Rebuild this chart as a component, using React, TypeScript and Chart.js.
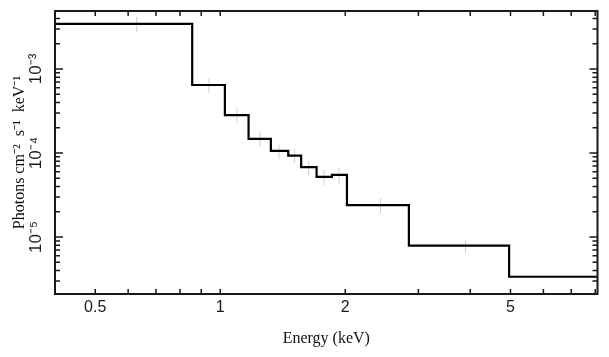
import React, { useEffect, useRef } from 'react';
import { Chart, registerables } from 'chart.js';

Chart.register(...registerables);

// Bin edges (keV) and model step values (photons cm^-2 s^-1 keV^-1)
const binEdges = [0.4, 0.856, 1.026, 1.17, 1.324, 1.458, 1.566, 1.706, 1.857, 2.019, 2.846, 4.962, 8.1];
const binValues = [3.45e-3, 6.45e-4, 2.83e-4, 1.47e-4, 1.06e-4, 9.3e-5, 6.8e-5, 5.2e-5, 5.5e-5, 2.4e-5, 7.9e-6, 3.37e-6];

// Data points (faint error bars)
const errEnergy = [0.629, 0.939, 1.097, 1.246, 1.385, 1.51, 1.632, 1.776, 1.931, 2.432, 3.896];
const errLow = [2.75e-3, 5.18e-4, 2.28e-4, 1.18e-4, 8.48e-5, 7.6e-5, 5.47e-5, 4.16e-5, 4.39e-5, 1.93e-5, 6.45e-6];
const errHigh = [4.16e-3, 7.81e-4, 3.43e-4, 1.78e-4, 1.25e-4, 1.12e-4, 8.03e-5, 6.28e-5, 6.63e-5, 2.91e-5, 9.21e-6];

// Axes
const xMin = 0.4;
const xMax = 8.1;
const yMin = 2.1e-6;
const yMax = 4.9e-3;
const xTickValues = [0.5, 1, 2, 5];
const xTickLabels = ['0.5', '1', '2', '5'];
const xMinorTicks = [0.5, 0.6, 0.7, 0.8, 0.9, 1, 2, 3, 4, 5, 6, 7, 8];
const yTickValues = [1e-5, 1e-4, 1e-3];
const yTickLabels = ['10⁻⁵', '10⁻⁴', '10⁻³'];
const yMinorTicks = [
  3e-6, 4e-6, 5e-6, 6e-6, 7e-6, 8e-6, 9e-6,
  1e-5, 2e-5, 3e-5, 4e-5, 5e-5, 6e-5, 7e-5, 8e-5, 9e-5,
  1e-4, 2e-4, 3e-4, 4e-4, 5e-4, 6e-4, 7e-4, 8e-4, 9e-4,
  1e-3, 2e-3, 3e-3, 4e-3,
];

const xTitle = 'Energy (keV)';
const yTitle = 'Photons cm⁻²  s⁻¹  keV⁻¹';

const framePlugin = {
  id: 'frameTicks',
  afterDatasetsDraw(chart: any) {
    const { ctx, chartArea, scales } = chart;
    const { left, right, top, bottom } = chartArea;
    const xs = scales.x;
    const ys = scales.y;
    ctx.save();
    ctx.strokeStyle = '#1a1a1a';
    ctx.lineWidth = 1.5;
    ctx.beginPath();
    xMinorTicks.forEach((v) => {
      const px = xs.getPixelForValue(v);
      ctx.moveTo(px, bottom);
      ctx.lineTo(px, bottom - 5);
      ctx.moveTo(px, top);
      ctx.lineTo(px, top + 5);
    });
    yMinorTicks.forEach((v) => {
      const py = ys.getPixelForValue(v);
      const len = yTickValues.includes(v) ? 8 : 5;
      ctx.moveTo(left, py);
      ctx.lineTo(left + len, py);
      ctx.moveTo(right, py);
      ctx.lineTo(right - len, py);
    });
    ctx.stroke();
    ctx.lineWidth = 2;
    ctx.strokeRect(left, top, right - left, bottom - top);
    ctx.restore();
  },
};

export default function App() {
  const canvasRef = useRef<HTMLCanvasElement | null>(null);

  useEffect(() => {
    if (!canvasRef.current) return;

    const stepData: { x: number; y: number }[] = binValues.map((v, i) => ({ x: binEdges[i], y: v }));
    stepData.push({ x: binEdges[binEdges.length - 1], y: binValues[binValues.length - 1] });

    const errData: { x: number; y: number | null }[] = [];
    errEnergy.forEach((e, i) => {
      errData.push({ x: e, y: errLow[i] });
      errData.push({ x: e, y: errHigh[i] });
      errData.push({ x: e, y: null });
    });

    const chart = new Chart(canvasRef.current, {
      type: 'line',
      data: {
        datasets: [
          {
            label: 'data',
            data: errData as any,
            borderColor: '#cfcfcf',
            borderWidth: 1,
            pointRadius: 0,
            spanGaps: false,
            order: 2,
          },
          {
            label: 'model',
            data: stepData as any,
            borderColor: '#000000',
            borderWidth: 2.2,
            pointRadius: 0,
            stepped: 'before',
            order: 1,
          },
        ],
      },
      options: {
        animation: false,
        responsive: true,
        maintainAspectRatio: false,
        layout: { padding: { top: 3, right: 3.5, bottom: 0, left: 0 } },
        plugins: {
          legend: { display: false },
          tooltip: { enabled: false },
        },
        scales: {
          x: {
            type: 'logarithmic',
            position: 'bottom',
            min: xMin,
            max: xMax,
            grid: { display: false, drawTicks: false },
            border: { display: false },
            afterBuildTicks: (s: any) => {
              s.ticks = xTickValues.map((v) => ({ value: v }));
            },
            afterFit: (s: any) => {
              s.height = 55;
              s.paddingLeft = 0;
              s.paddingRight = 0;
            },
            ticks: {
              autoSkip: false,
              maxRotation: 0,
              minRotation: 0,
              padding: 4,
              color: '#1a1a1a',
              font: { family: 'Liberation Sans', size: 16 },
              callback: (_v: any, i: number) => xTickLabels[i],
            },
            title: {
              display: true,
              text: xTitle,
              color: '#111',
              font: { family: 'Liberation Serif', size: 16 },
              padding: { top: 0, bottom: 1 },
            },
          },
          y: {
            type: 'logarithmic',
            position: 'left',
            min: yMin,
            max: yMax,
            grid: { display: false, drawTicks: false },
            border: { display: false },
            afterBuildTicks: (s: any) => {
              s.ticks = yTickValues.map((v) => ({ value: v }));
            },
            afterFit: (s: any) => {
              s.width = 47;
              s.paddingTop = 0;
              s.paddingBottom = 0;
            },
            ticks: {
              autoSkip: false,
              minRotation: 90,
              maxRotation: 90,
              crossAlign: 'center',
              padding: 3,
              color: '#1a1a1a',
              font: { family: 'Liberation Sans', size: 17 },
              callback: (_v: any, i: number) => yTickLabels[i],
            },
            title: {
              display: true,
              text: yTitle,
              color: '#111',
              font: { family: 'Liberation Serif', size: 16 },
              padding: { top: 2, bottom: 0 },
            },
          },
        },
      },
      plugins: [framePlugin],
    });

    return () => {
      chart.destroy();
    };
  }, []);

  return (
    <div style={{ width: 593, height: 341, position: 'relative' }}>
      <canvas ref={canvasRef} />
    </div>
  );
}
